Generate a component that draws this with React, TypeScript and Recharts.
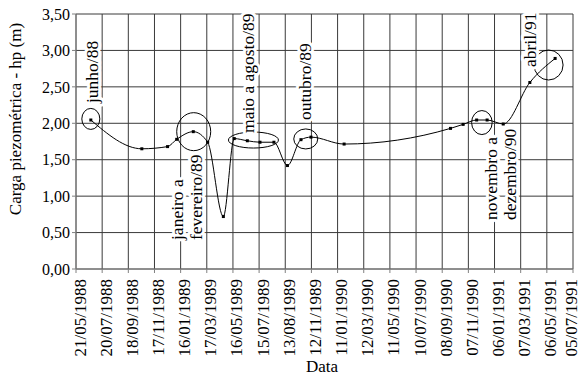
import React from 'react';
import {
  LineChart,
  Line,
  XAxis,
  YAxis,
  CartesianGrid,
  ReferenceDot,
} from 'recharts';

// dates of the readings (dd/mm/yyyy)
const dates = [
  '24/06/1988', '19/10/1988', '17/12/1988', '07/01/1989', '14/02/1989',
  '19/03/1989', '24/04/1989', '19/05/1989', '18/06/1989', '17/07/1989',
  '18/08/1989', '18/09/1989', '19/10/1989', '11/11/1989', '26/01/1990',
  '27/09/1990', '26/10/1990', '26/11/1990', '20/12/1990', '26/01/1991',
  '28/03/1991', '25/05/1991',
];

// carga piezométrica hp (m)
const hp = [
  2.045, 1.65, 1.68, 1.78, 1.885,
  1.74, 0.72, 1.79, 1.76, 1.74,
  1.74, 1.42, 1.775, 1.81, 1.715,
  1.93, 1.985, 2.045, 2.045, 1.99,
  2.56, 2.89,
];

const tickLabels = [
  '21/05/1988', '20/07/1988', '18/09/1988', '17/11/1988', '16/01/1989',
  '17/03/1989', '16/05/1989', '15/07/1989', '13/08/1989', '12/11/1989',
  '11/01/1990', '12/03/1990', '11/05/1990', '10/07/1990', '08/09/1990',
  '07/11/1990', '06/01/1991', '07/03/1991', '06/05/1991', '05/07/1991',
];
const tickStep = 60;

const yTicks = [0, 0.5, 1, 1.5, 2, 2.5, 3, 3.5];

// circled periods: centre date, centre value
const circleDates = ['24/06/1988', '15/02/1989', '02/07/1989', '30/10/1989', '08/12/1990', '10/05/1991'];
const circleValues = [2.06, 1.885, 1.77, 1.785, 2.01, 2.8];
const circleSizes = [[9, 10.5], [17, 19], [25, 8], [12, 10], [10.3, 12], [14.5, 15]];

// rotated notes: lines, anchor date, anchor value
const noteLines = [
  ['junho/88'],
  ['janeiro a', 'fevereiro/89'],
  ['maio a agosto/89'],
  ['outubro/89'],
  ['novembro a', 'dezembro/90'],
  ['abril/91'],
];
const noteDates = ['26/06/1988', '30/01/1989', '20/06/1989', '28/10/1989', '20/01/1991', '28/03/1991'];
const noteValues = [2.278, 0.398, 1.867, 2.045, 0.672, 2.772];

const FONT = "'Liberation Serif', 'Times New Roman', Times, serif";
const origin = Date.UTC(1988, 4, 21);

const toDay = (s: string) => {
  const [d, m, y] = s.split('/').map(Number);
  return Math.round((Date.UTC(y, m - 1, d) - origin) / 86400000);
};

const data = dates.map((d, i) => ({ day: toDay(d), hp: hp[i] }));
const xTicks = tickLabels.map((_, i) => i * tickStep);

const XTick = (props: any) => {
  const { x, y, payload } = props;
  const label = tickLabels[Math.round(payload.value / tickStep)];
  // keep the last label inside the picture
  const tx = Math.min(x + 4, 571);
  return (
    <text
      x={0}
      y={0}
      transform={`translate(${tx},${y + 4}) rotate(-90)`}
      textAnchor="end"
      dominantBaseline="central"
      style={{ fontFamily: FONT, fontSize: 17 }}
      fill="#000"
    >
      {label}
    </text>
  );
};

const SquareDot = (props: any) => {
  const { cx, cy } = props;
  if (cx == null || cy == null) return null;
  return <rect x={cx - 1.5} y={cy - 1.5} width={3} height={3} fill="#000" />;
};

const App = () => {
  return (
    <div style={{ position: 'absolute', left: 0, top: 0, background: '#fff', fontFamily: FONT }}>
      <LineChart
        width={581}
        height={375}
        data={data}
        margin={{ top: 14, right: 8, left: 0, bottom: 0 }}
        style={{ fontFamily: FONT }}
      >
        <CartesianGrid stroke="#3a3a3a" strokeWidth={1} />
        <XAxis
          type="number"
          dataKey="day"
          domain={[0, (tickLabels.length - 1) * tickStep]}
          ticks={xTicks}
          interval={0}
          height={106}
          tick={<XTick />}
          tickSize={4}
          stroke="#808080"
          label={{
            content: () => (
              <text x={322} y={366} textAnchor="middle" dominantBaseline="central" style={{ fontFamily: FONT, fontSize: 17 }} fill="#000">
                Data
              </text>
            ),
          }}
        />
        <YAxis
          type="number"
          domain={[0, 3.5]}
          ticks={yTicks}
          interval={0}
          width={76}
          tickSize={4}
          stroke="#808080"
          tickFormatter={(v: number) => v.toFixed(2).replace('.', ',')}
          tick={{ fill: '#000', style: { fontFamily: FONT, fontSize: 16 } }}
          label={{
            content: () => (
              <text
                x={0}
                y={0}
                transform="translate(15,119) rotate(-90)"
                textAnchor="middle"
                dominantBaseline="central"
                style={{ fontFamily: FONT, fontSize: 17 }}
                fill="#000"
              >
                Carga piezométrica - hp (m)
              </text>
            ),
          }}
        />
        <Line
          type="monotone"
          dataKey="hp"
          stroke="#000"
          strokeWidth={1}
          dot={<SquareDot />}
          activeDot={false}
          isAnimationActive={false}
        />
        {circleDates.map((d, i) => (
          <ReferenceDot
            key={`c${i}`}
            x={toDay(d)}
            y={circleValues[i]}
            r={1}
            ifOverflow="visible"
            shape={(p: any) => (
              <ellipse
                cx={p.cx}
                cy={p.cy}
                rx={circleSizes[i][0]}
                ry={circleSizes[i][1]}
                fill="none"
                stroke="#000"
                strokeWidth={1}
              />
            )}
          />
        ))}
        {noteDates.map((d, i) => (
          <ReferenceDot
            key={`n${i}`}
            x={toDay(d)}
            y={noteValues[i]}
            r={1}
            ifOverflow="visible"
            shape={(p: any) => {
              const lines = noteLines[i];
              const gap = 19;
              return (
                <g>
                  {lines.map((t, j) => (
                    <text
                      key={j}
                      x={0}
                      y={0}
                      transform={`translate(${p.cx + (j - (lines.length - 1) / 2) * gap},${p.cy}) rotate(-90)`}
                      textAnchor="start"
                      dominantBaseline="central"
                      style={{ fontFamily: FONT, fontSize: 17.5, paintOrder: 'stroke' }}
                      fill="#000"
                      stroke="#fff"
                      strokeWidth={6}
                      strokeLinejoin="round"
                    >
                      {t}
                    </text>
                  ))}
                </g>
              );
            }}
          />
        ))}
      </LineChart>
    </div>
  );
};

export default App;
